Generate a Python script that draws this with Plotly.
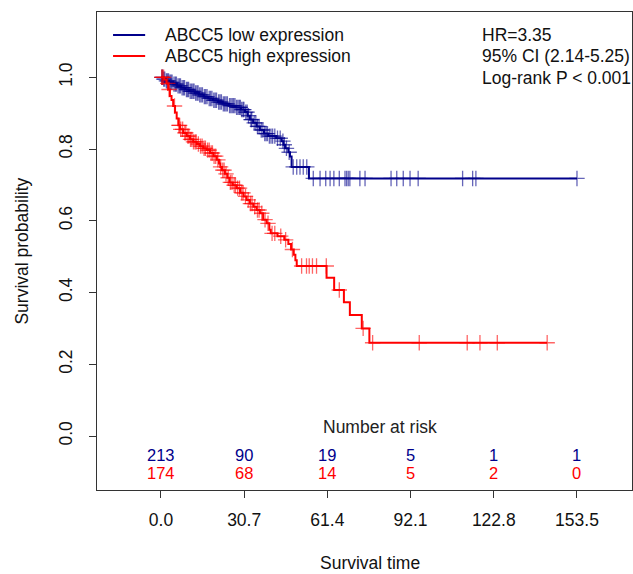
import bisect
import plotly.graph_objects as go

# ---------------- data ----------------
time_ticks = [0.0, 30.7, 61.4, 92.1, 122.8, 153.5]
tick_labels = ["0.0", "30.7", "61.4", "92.1", "122.8", "153.5"]
prob_ticks = [0.0, 0.2, 0.4, 0.6, 0.8, 1.0]
prob_labels = ["0.0", "0.2", "0.4", "0.6", "0.8", "1.0"]

risk_low = [213, 90, 19, 5, 1, 1]
risk_high = [174, 68, 14, 5, 2, 0]

group_names = ["ABCC5 low expression", "ABCC5 high expression"]
stats_lines = ["HR=3.35", "95% CI (2.14-5.25)", "Log-rank P &lt; 0.001"]

# ABCC5 low expression: event times and Kaplan-Meier estimate after each event
low_event_times = [0.8, 1.8, 3.0, 4.5, 6.0, 7.5, 9.0, 10.5, 12.5, 14.0, 15.8, 17.5,
                   19.2, 21.0, 22.8, 25.0, 27.5, 29.5, 31.0, 32.0, 32.8, 34.0, 35.3,
                   36.5, 38.0, 39.6, 42.5, 44.5, 45.2, 45.8, 47.0, 47.6, 48.2, 54.6]
low_surv = [0.995, 0.990, 0.986, 0.981, 0.976, 0.971, 0.966, 0.961, 0.956, 0.951,
            0.946, 0.941, 0.936, 0.931, 0.926, 0.921, 0.916, 0.910, 0.903, 0.893,
            0.882, 0.873, 0.863, 0.853, 0.843, 0.836, 0.830, 0.822, 0.812, 0.802,
            0.791, 0.779, 0.750, 0.718]
low_censor_times = [0.3, 0.6, 1.0, 1.4, 2.0, 2.4, 2.8, 3.3, 3.7, 4.1, 4.8, 5.3, 5.7,
                    6.3, 6.8, 7.2, 7.8, 8.3, 8.7, 9.4, 9.8, 10.2, 10.8, 11.3, 11.8,
                    12.2, 12.8, 13.3, 13.7, 14.3, 14.8, 15.3, 16.0, 16.5, 17.0, 17.8,
                    18.3, 18.8, 19.5, 20.0, 20.5, 21.3, 21.8, 22.3, 23.0, 23.5, 24.0,
                    24.5, 25.3, 25.8, 26.3, 26.8, 27.3, 27.9, 28.4, 28.9, 29.3, 29.8,
                    30.3, 30.6, 31.3, 31.8, 32.3, 33.2, 33.5, 34.4, 35.0, 35.6, 36.2,
                    37.0, 37.6, 38.3, 38.8, 39.3, 40.0, 40.6, 41.2, 42.0, 43.0, 44.0,
                    45.0, 45.5, 46.3, 47.3, 48.8, 50.1, 51.3, 52.5, 53.8, 56.2, 58.7,
                    60.8, 62.4, 63.8, 65.8, 67.9, 68.5, 69.1, 69.7, 73.4, 75.3, 84.9,
                    87.0, 89.4, 91.9, 94.9, 111.3, 115.0, 116.2, 153.5]

# ABCC5 high expression
high_event_times = [1.2, 2.0, 2.7, 3.3, 3.9, 4.5, 5.2, 5.8, 6.4, 7.0, 8.2, 9.5, 10.7,
                    11.9, 13.2, 14.4, 15.6, 16.9, 18.1, 19.4, 20.6, 21.4, 21.9, 22.5,
                    23.6, 24.5, 25.3, 26.5, 27.9, 29.2, 30.5, 31.6, 32.8, 34.1, 35.3,
                    36.5, 37.7, 39.0, 40.0, 40.5, 43.0, 45.5, 47.0, 48.0, 49.0, 49.6,
                    50.1, 61.1, 63.9, 67.5, 69.7, 74.1, 76.9]
high_surv = [0.994, 0.983, 0.966, 0.948, 0.937, 0.920, 0.902, 0.885, 0.866, 0.855,
             0.845, 0.836, 0.827, 0.820, 0.814, 0.808, 0.802, 0.797, 0.789, 0.780,
             0.770, 0.760, 0.750, 0.741, 0.731, 0.720, 0.707, 0.699, 0.691, 0.678,
             0.668, 0.658, 0.648, 0.639, 0.630, 0.621, 0.603, 0.593, 0.575, 0.565,
             0.557, 0.547, 0.535, 0.520, 0.505, 0.490, 0.474, 0.441, 0.407, 0.373,
             0.337, 0.300, 0.260]
high_censor_times = [0.3, 0.5, 1.0, 2.5, 3.0, 5.0, 6.6, 6.9, 7.3, 8.0, 8.8, 9.2, 9.9,
                     10.3, 10.9, 11.4, 12.0, 12.6, 13.0, 13.8, 14.6, 15.2, 15.9, 16.4,
                     17.2, 17.8, 18.5, 19.0, 19.6, 20.2, 21.0, 22.0, 22.8, 23.3, 24.0,
                     24.8, 25.6, 26.2, 27.0, 27.5, 28.3, 29.0, 29.8, 30.3, 31.2, 32.2,
                     33.0, 33.6, 34.6, 35.6, 36.2, 37.2, 38.4, 39.5, 41.0, 42.0, 44.2,
                     46.0, 48.5, 51.9, 53.7, 54.7, 55.9, 57.4, 61.0, 65.8, 74.6, 78.1,
                     95.3, 113.0, 117.7, 124.1, 142.5]

LOW_COLOR = "#00008B"
HIGH_COLOR = "#FF0000"
TEXT_COLOR = "#111111"
FONT = "Liberation Sans, Arial, sans-serif"
FS = 17.5
RISK_FS = 16.5


def surv_at(t, times, surv):
    i = bisect.bisect_right(times, t)
    return 1.0 if i == 0 else surv[i - 1]


def km_traces(name, times, surv, censors, color):
    end = max(censors[-1], times[-1])
    line = go.Scatter(
        x=[0.0] + times + [end], y=[1.0] + surv + [surv[-1]],
        mode="lines", line=dict(color=color, width=2, shape="hv"),
        name=name, showlegend=False, hoverinfo="skip",
    )
    marks = go.Scatter(
        x=censors, y=[surv_at(c, times, surv) for c in censors],
        mode="markers",
        marker=dict(symbol="cross-thin", size=11, opacity=0.6,
                    line=dict(color=color, width=1.3)),
        showlegend=False, hoverinfo="skip",
    )
    return [line, marks]


fig = go.Figure()
for tr in km_traces(group_names[0], low_event_times, low_surv,
                    low_censor_times, LOW_COLOR):
    fig.add_trace(tr)
for tr in km_traces(group_names[1], high_event_times, high_surv,
                    high_censor_times, HIGH_COLOR):
    fig.add_trace(tr)

# legend in the upper-left corner of the panel
for name, color, py in zip(group_names, [LOW_COLOR, HIGH_COLOR], [0.952, 0.908]):
    fig.add_shape(type="line", xref="paper", yref="paper",
                  x0=0.030, x1=0.090, y0=py, y1=py,
                  line=dict(color=color, width=2))
    fig.add_annotation(x=0.1234, y=py, xref="paper", yref="paper", text=name,
                       xanchor="left", yanchor="middle", showarrow=False,
                       font=dict(size=FS, color=TEXT_COLOR))

# statistics block
for txt, py in zip(stats_lines, [0.952, 0.908, 0.862]):
    fig.add_annotation(x=0.716, y=py, xref="paper", yref="paper", text=txt,
                       xanchor="left", yanchor="middle", showarrow=False,
                       font=dict(size=FS, color=TEXT_COLOR))

# number-at-risk table drawn inside the panel
fig.add_annotation(x=81.0, y=0.025, xref="x", yref="y", text="Number at risk",
                   showarrow=False, font=dict(size=FS, color="#222222"))
for t, lo, hi in zip(time_ticks, risk_low, risk_high):
    fig.add_annotation(x=t, y=-0.053, xref="x", yref="y", text=str(lo),
                       showarrow=False, font=dict(size=RISK_FS, color=LOW_COLOR))
    fig.add_annotation(x=t, y=-0.102, xref="x", yref="y", text=str(hi),
                       showarrow=False, font=dict(size=RISK_FS, color=HIGH_COLOR))

# axis titles
fig.add_annotation(x=0.510, y=-0.153, xref="paper", yref="paper", text="Survival time",
                   xanchor="center", yanchor="middle",
                   showarrow=False, font=dict(size=FS, color=TEXT_COLOR))
fig.add_annotation(x=-0.141, y=0.5, xref="paper", yref="paper",
                   text="Survival probability", textangle=-90,
                   xanchor="center", yanchor="middle",
                   showarrow=False, font=dict(size=FS, color=TEXT_COLOR))

fig.update_layout(
    width=633, height=574,
    margin=dict(l=97, r=1, t=12, b=84),
    paper_bgcolor="white", plot_bgcolor="white",
    font=dict(family=FONT, size=FS, color=TEXT_COLOR),
    showlegend=False,
    xaxis=dict(range=[-23.6, 173.8], tickvals=time_ticks, ticktext=tick_labels,
               ticks="outside", ticklen=7, tickcolor="#333333", showgrid=False,
               zeroline=False, showline=True, linecolor="#333333", mirror=True,
               linewidth=1, ticklabelstandoff=7, tickfont=dict(size=FS)),
    yaxis=dict(range=[-0.1505, 1.182], tickvals=prob_ticks, ticktext=prob_labels,
               ticks="outside", ticklen=7, tickcolor="#333333", showgrid=False,
               zeroline=False, showline=True, linecolor="#333333", mirror=True,
               linewidth=1, tickangle=-90, ticklabelstandoff=10,
               tickfont=dict(size=FS)),
)

fig.write_html("out.html")
